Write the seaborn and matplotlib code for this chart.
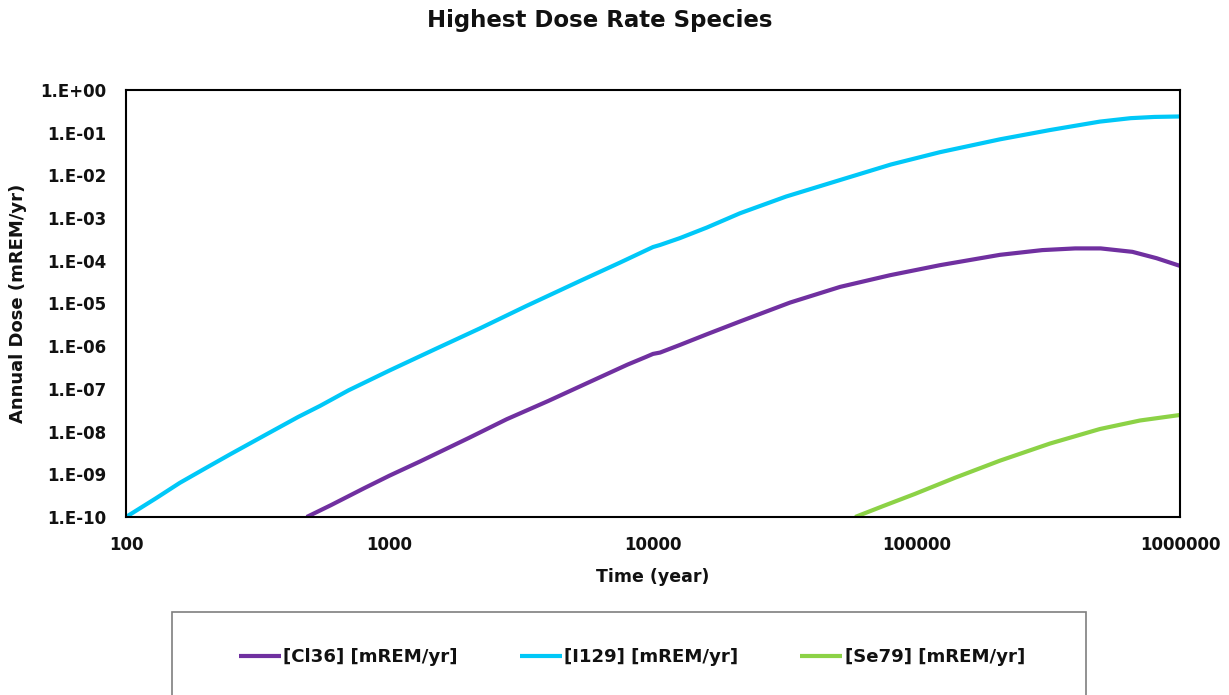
import numpy as np
import pandas as pd
import matplotlib
matplotlib.use("Agg")
import matplotlib.pyplot as plt
from matplotlib.patches import Rectangle
from matplotlib.ticker import FixedLocator, FixedFormatter, NullLocator
import seaborn as sns

# ---------------- data ----------------
cl36_time = [485, 600, 800, 1000, 1306, 2000, 2785, 4000, 5600, 8000, 9400,
             10000, 10640, 12650, 16000, 21400, 33100, 51300, 79400, 122800,
             207500, 300000, 400000, 500000, 660000, 815000, 1000000]
cl36_dose = [1.0e-10, 1.9e-10, 4.7e-10, 9.3e-10, 2.0e-9, 7.1e-9, 1.95e-8,
             5.2e-8, 1.35e-7, 3.7e-7, 5.6e-7, 6.6e-7, 7.1e-7, 1.07e-6,
             1.9e-6, 3.8e-6, 1.05e-5, 2.45e-5, 4.6e-5, 7.9e-5, 1.38e-4,
             1.78e-4, 1.95e-4, 1.95e-4, 1.62e-4, 1.15e-4, 7.6e-5]

i129_time = [100, 130, 160, 200, 250, 342, 450, 545, 700, 1000, 1500, 2200,
             3300, 5300, 7500, 10000, 10640, 12650, 16000, 21400, 32000,
             51300, 80000, 122800, 207500, 320000, 496800, 650000, 800000,
             1000000]
i129_dose = [1.0e-10, 2.75e-10, 6.3e-10, 1.38e-9, 3.0e-9, 8.7e-9, 2.2e-8,
             4.0e-8, 9.3e-8, 2.7e-7, 8.7e-7, 2.6e-6, 8.7e-6, 3.4e-5, 9.1e-5,
             2.1e-4, 2.35e-4, 3.4e-4, 6.0e-4, 1.3e-3, 3.2e-3, 7.8e-3, 1.8e-2,
             3.5e-2, 7.0e-2, 0.115, 0.182, 0.219, 0.234, 0.24]

se79_time = [58500, 75000, 98600, 140000, 207500, 321000, 496800, 705000,
             1000000]
se79_dose = [1.0e-10, 1.82e-10, 3.47e-10, 8.3e-10, 2.09e-9, 5.25e-9,
             1.15e-8, 1.82e-8, 2.45e-8]

series_labels = ["[Cl36] [mREM/yr]", "[I129] [mREM/yr]", "[Se79] [mREM/yr]"]
series_colors = ["#7030A0", "#00C8F8", "#8CD246"]

x_tick_values = [100, 1000, 10000, 100000, 1000000]
x_tick_labels = ["100", "1000", "10000", "100000", "1000000"]
y_tick_values = [1e-10, 1e-9, 1e-8, 1e-7, 1e-6, 1e-5, 1e-4, 1e-3, 1e-2,
                 1e-1, 1e0]
y_tick_labels = ["1.E-10", "1.E-09", "1.E-08", "1.E-07", "1.E-06",
                 "1.E-05", "1.E-04", "1.E-03", "1.E-02", "1.E-01", "1.E+00"]

title_text = "Highest Dose Rate Species"
x_label = "Time (year)"
y_label = "Annual Dose (mREM/yr)"

# ---------------- build long table ----------------
frames = []
for lab, t, d in zip(series_labels,
                     [cl36_time, i129_time, se79_time],
                     [cl36_dose, i129_dose, se79_dose]):
    frames.append(pd.DataFrame({"time": t, "dose": d, "species": lab}))
df = pd.concat(frames, ignore_index=True)

# ---------------- style ----------------
sns.set_theme(style="white")
plt.rcParams["font.family"] = ["DejaVu Sans"]
plt.rcParams["font.weight"] = "bold"

W, H = 1229, 695
fig = plt.figure(figsize=(W / 100, H / 100), dpi=100)
ax = fig.add_axes([126 / W, 1 - 517 / H, (1180 - 126) / W, (517 - 90) / H])

sns.lineplot(data=df, x="time", y="dose", hue="species",
             hue_order=series_labels, palette=series_colors,
             linewidth=3, estimator=None, sort=False, ax=ax)
for ln in ax.get_lines():
    ln.set_solid_joinstyle("round")
    ln.set_solid_capstyle("butt")

ax.set_xscale("log")
ax.set_yscale("log")
ax.set_xlim(100, 1e6)
ax.set_ylim(1e-10, 1)

ax.xaxis.set_major_locator(FixedLocator(x_tick_values))
ax.xaxis.set_major_formatter(FixedFormatter(x_tick_labels))
ax.xaxis.set_minor_locator(NullLocator())
ax.yaxis.set_major_locator(FixedLocator(y_tick_values))
ax.yaxis.set_major_formatter(FixedFormatter(y_tick_labels))
ax.yaxis.set_minor_locator(NullLocator())

ax.tick_params(axis="both", which="major", direction="out", length=5.5,
               width=1.2, color="black", labelsize=12, labelcolor="#111111")
ax.tick_params(axis="y", pad=8.5)
ax.tick_params(axis="x", pad=8)
for lbl in ax.get_xticklabels() + ax.get_yticklabels():
    lbl.set_fontweight("bold")

for s in ax.spines.values():
    s.set_visible(True)
    s.set_color("black")
    s.set_linewidth(1.5)

ax.set_xlabel(x_label, fontsize=12.5, fontweight="bold", color="#111111",
              labelpad=10)
ax.set_ylabel(y_label, fontsize=13, fontweight="bold", color="#111111",
              labelpad=10)

fig.text(600 / W, 1 - 21 / H, title_text, ha="center", va="center",
         fontsize=16.5, fontweight="bold", color="#111111")

handles, labels = ax.get_legend_handles_labels()
ax.get_legend().remove()
leg = fig.legend(handles, labels, loc="center", ncol=3,
                 bbox_to_anchor=(632 / W, 1 - 657 / H), frameon=False,
                 fontsize=13.1, handlelength=2.3, handletextpad=0.15,
                 columnspacing=3.4)
for t in leg.get_texts():
    t.set_fontweight("bold")
    t.set_color("#111111")
for lh in leg.get_lines():
    lh.set_linewidth(3)

fig.add_artist(Rectangle((172 / W, -0.05), (1086 - 172) / W,
                         (1 - 612 / H) + 0.05, transform=fig.transFigure,
                         fill=False, edgecolor="#7f7f7f", linewidth=1.2))

fig.savefig("out.png", dpi=100)
